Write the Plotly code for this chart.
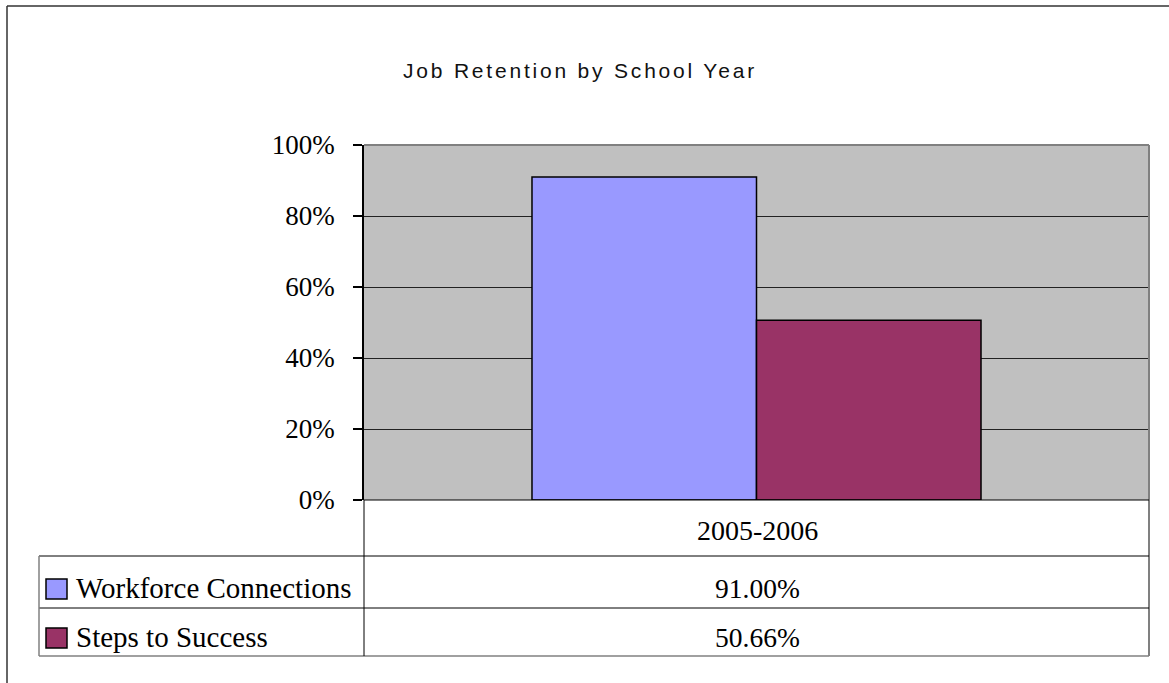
import plotly.graph_objects as go

# ---- data ----
categories = ["2005-2006"]
series_names = ["Workforce Connections", "Steps to Success"]
series_values = [[0.91], [0.5066]]
value_labels = [["91.00%"], ["50.66%"]]
y_ticks = [0, 0.2, 0.4, 0.6, 0.8, 1.0]
y_tick_labels = ["0%", "20%", "40%", "60%", "80%", "100%"]
title_text = "Job Retention by School Year"

# ---- style ----
colors = ["#9999FF", "#993366"]
W, H = 1169, 683
L, R, T, B = 364, 1149, 145, 500  # plot area in pixels

def px(x):
    return (x - L) / (R - L)

def py(y):
    return (B - y) / (B - T)

fig = go.Figure()
for name, vals, col in zip(series_names, series_values, colors):
    fig.add_trace(go.Bar(
        x=categories, y=vals, name=name,
        marker=dict(color=col, line=dict(color="#000000", width=1.5)),
        hoverinfo="skip",
    ))

SERIF = "Liberation Serif, Times New Roman, serif"
shapes = []
annotations = []

def line(x0, y0, x1, y1, color="#000000", width=1):
    shapes.append(dict(type="line", xref="paper", yref="paper",
                       x0=px(x0), y0=py(y0), x1=px(x1), y1=py(y1),
                       line=dict(color=color, width=width), layer="above"))

# outer chart frame (clipped on right/bottom)
line(7, 6, 1175, 6, "#333333", 1.5)
line(7, 6, 7, 690, "#333333", 1.5)

# plot area border (top/right grey)
line(L, T, R, T, "#808080", 2)
line(R, T, R, 656, "#808080", 2)

# data table
line(L, B, R, B, "#000000", 1)
line(39, 556, R, 556, "#000000", 1)
line(39, 608, R, 608, "#000000", 1)
line(39, 656, R, 656, "#808080", 1.5)
line(39, 556, 39, 656, "#808080", 1.5)
line(L, B, L, 656, "#000000", 1)

# header row: categories
for c in categories:
    annotations.append(dict(x=px((L + R) / 2 + 1), y=py(530), xref="paper", yref="paper",
                            text=c, showarrow=False, xanchor="center", yanchor="middle",
                            font=dict(family=SERIF, size=28, color="#000000")))

row_centers = [589, 638]
for i, (name, col) in enumerate(zip(series_names, colors)):
    yc = row_centers[i]
    shapes.append(dict(type="rect", xref="paper", yref="paper",
                       x0=px(46), x1=px(67), y0=py(yc - 10), y1=py(yc + 10),
                       fillcolor=col, line=dict(color="#000000", width=1.5), layer="above"))
    annotations.append(dict(x=px(74), y=py(yc - 1), xref="paper", yref="paper",
                            text=name, showarrow=False, xanchor="left", yanchor="middle",
                            font=dict(family=SERIF, size=29, color="#000000")))
    annotations.append(dict(x=px((L + R) / 2 + 1), y=py(yc - 1), xref="paper", yref="paper",
                            text=value_labels[i][0], showarrow=False, xanchor="center",
                            yanchor="middle",
                            font=dict(family=SERIF, size=27.5, color="#000000")))

# title
annotations.append(dict(x=px(580), y=py(70), xref="paper", yref="paper",
                        text='<span style="letter-spacing:2.8px">' + title_text + '</span>',
                        showarrow=False, xanchor="center", yanchor="middle",
                        font=dict(family="Liberation Sans, Arial, sans-serif", size=21,
                                  color="#111111")))

fig.update_layout(
    width=W, height=H,
    margin=dict(l=L, r=W - R, t=T, b=H - B, pad=0),
    paper_bgcolor="#FFFFFF",
    plot_bgcolor="#C0C0C0",
    barmode="group",
    bargap=0.428,
    bargroupgap=0,
    showlegend=False,
    shapes=shapes,
    annotations=annotations,
)
fig.update_xaxes(type="category", showticklabels=False, showgrid=False,
                 zeroline=False, showline=False, ticks="")
fig.update_yaxes(range=[0, 1], tickvals=y_ticks, ticktext=y_tick_labels,
                 showgrid=True, gridcolor="#222222", gridwidth=1,
                 zeroline=False, showline=True, linecolor="#000000", linewidth=1.5,
                 ticks="outside", ticklen=9, tickcolor="#000000", tickwidth=1.5,
                 ticklabelstandoff=13,
                 tickfont=dict(family=SERIF, size=27, color="#000000"))

fig.write_html("out.html")
